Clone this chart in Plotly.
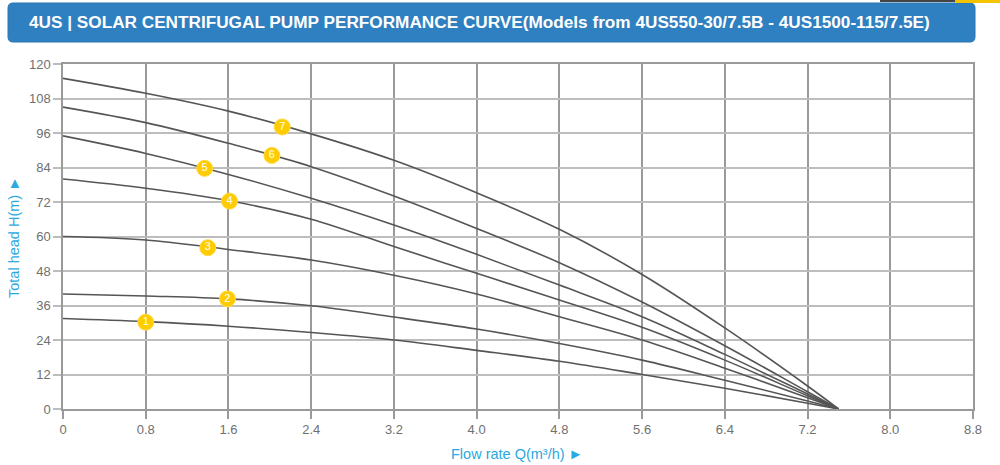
import plotly.graph_objects as go

# ---- data ----
flow = [0, 0.8, 1.6, 2.4, 3.2, 4.0, 4.8, 5.6, 6.4, 7.2, 7.5]
head_1 = [31.5, 30.4, 28.8, 26.6, 24.0, 20.4, 16.6, 12.0, 7.2, 2.0, 0]
head_2 = [40.0, 39.3, 38.3, 35.9, 32.0, 27.8, 22.8, 17.0, 10.0, 2.8, 0]
head_3 = [60.0, 58.8, 55.5, 51.8, 46.5, 40.0, 32.1, 24.0, 14.2, 3.9, 0]
head_4 = [80.0, 76.8, 72.5, 66.0, 56.5, 47.2, 37.9, 28.4, 17.0, 4.6, 0]
head_5 = [95.0, 88.9, 81.6, 73.3, 64.0, 53.8, 43.1, 32.1, 19.0, 5.2, 0]
head_6 = [105.0, 99.6, 92.4, 84.3, 74.1, 62.8, 50.9, 37.2, 22.0, 6.0, 0]
head_7 = [115.0, 109.8, 103.6, 95.7, 86.5, 75.2, 62.5, 46.8, 28.2, 8.0, 0]
curves = [head_1, head_2, head_3, head_4, head_5, head_6, head_7]

label_x = [0.8, 1.59, 1.4, 1.61, 1.37, 2.02, 2.12]
label_y = [30.2, 38.3, 56.1, 72.3, 83.7, 88.2, 98.1]
label_text = ["1", "2", "3", "4", "5", "6", "7"]

x_ticks = [0, 0.8, 1.6, 2.4, 3.2, 4.0, 4.8, 5.6, 6.4, 7.2, 8.0, 8.8]
x_tick_text = ["0", "0.8", "1.6", "2.4", "3.2", "4.0", "4.8", "5.6", "6.4", "7.2", "8.0", "8.8"]
y_ticks = [0, 12, 24, 36, 48, 60, 72, 84, 96, 108, 120]

title_text = "4US | SOLAR CENTRIFUGAL PUMP PERFORMANCE CURVE(Models from 4US550-30/7.5B - 4US1500-115/7.5E)"
x_title = "Flow rate Q(m³/h) ►"
y_title = "Total head H(m) ►"

# ---- layout geometry ----
W, H = 1000, 465
L, R, T, B = 63, 27, 64, 56
PW, PH = W - L - R, H - T - B


def px_x(p):
    return (p - L) / PW


def px_y(p):
    return (H - B - p) / PH


fig = go.Figure()

for c in curves:
    fig.add_trace(go.Scatter(
        x=flow, y=c, mode="lines",
        line=dict(color="#555555", width=1.6, shape="spline", smoothing=1.0),
        hoverinfo="skip", showlegend=False,
    ))

fig.add_trace(go.Scatter(
    x=label_x, y=label_y, mode="markers+text",
    text=label_text, textposition="middle center",
    textfont=dict(color="white", size=11, family="Liberation Sans"),
    marker=dict(size=16, color="#FFCC00", line=dict(color="#FFD940", width=1)),
    hoverinfo="skip", showlegend=False,
))

axis_font = dict(family="Liberation Sans, Arial, sans-serif", size=13, color="#707070")

fig.update_xaxes(
    range=[0, 8.8], tickvals=x_ticks, ticktext=x_tick_text,
    showgrid=True, gridcolor="#9a9a9a", gridwidth=1.5,
    zeroline=False, showline=True, mirror=True, linecolor="#9a9a9a", linewidth=1.5,
    ticks="outside", ticklen=8, tickcolor="#9a9a9a", tickwidth=1.5,
    tickfont=axis_font, fixedrange=True,
)
fig.update_yaxes(
    range=[0, 120], tickvals=y_ticks,
    showgrid=True, gridcolor="#bdbdbd", gridwidth=1.5,
    zeroline=False, showline=True, mirror=True, linecolor="#9a9a9a", linewidth=1.5,
    ticks="outside", ticklen=8, tickcolor="#bdbdbd", tickwidth=1.5,
    tickfont=axis_font, fixedrange=True,
)

# title box with rounded corners (paper coords)
x0, x1 = px_x(8), px_x(975)
y0, y1 = px_y(42), px_y(3)
rx = 5 / PW
ry = 5 / PH
path = (f"M {x0+rx},{y1} L {x1-rx},{y1} Q {x1},{y1} {x1},{y1-ry} "
        f"L {x1},{y0+ry} Q {x1},{y0} {x1-rx},{y0} "
        f"L {x0+rx},{y0} Q {x0},{y0} {x0},{y0+ry} "
        f"L {x0},{y1-ry} Q {x0},{y1} {x0+rx},{y1} Z")
shapes = [
    dict(type="path", xref="paper", yref="paper", path=path,
         fillcolor="#2F80C0", line=dict(color="#2A75B0", width=1), layer="above"),
    dict(type="rect", xref="paper", yref="paper",
         x0=px_x(880), x1=px_x(955), y0=px_y(2), y1=px_y(0),
         fillcolor="#444444", line=dict(width=0)),
    dict(type="rect", xref="paper", yref="paper",
         x0=px_x(955), x1=px_x(1000), y0=px_y(3), y1=px_y(0),
         fillcolor="#F5C400", line=dict(width=0)),
]

annotations = [
    dict(text=f"<b>{title_text}</b>", xref="paper", yref="paper",
         x=px_x(27), y=px_y(22.5), xanchor="left", yanchor="middle", showarrow=False,
         font=dict(family="Liberation Sans Narrow, Arial Narrow, Liberation Sans", size=17.2, color="white")),
    dict(text=x_title, xref="paper", yref="paper",
         x=px_x(517), y=px_y(454), xanchor="center", yanchor="middle", showarrow=False,
         font=dict(family="Liberation Sans, Arial", size=14.5, color="#29A9E0")),
    dict(text=y_title, xref="paper", yref="paper", textangle=-90,
         x=px_x(14), y=px_y(237), xanchor="center", yanchor="middle", showarrow=False,
         font=dict(family="Liberation Sans, Arial", size=14.5, color="#29A9E0")),
]

fig.update_layout(
    width=W, height=H,
    margin=dict(l=L, r=R, t=T, b=B),
    paper_bgcolor="white", plot_bgcolor="white",
    shapes=shapes, annotations=annotations,
    showlegend=False,
)

fig.write_html(
    "out.html",
    config={"displayModeBar": False},
    post_script="document.body.style.margin='0';document.body.style.overflow='hidden';",
)
